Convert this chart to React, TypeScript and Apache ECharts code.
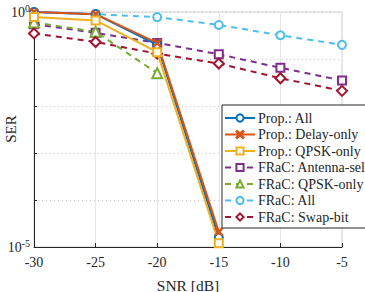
import React, { useEffect, useRef } from "react";
import * as echarts from "echarts";

const snr = [-30, -25, -20, -15, -10, -5];
const propAll = [1.0, 0.9, 0.2, 1.6e-5, null, null];
const propDelay = [1.0, 0.9, 0.22, 2.1e-5, null, null];
const propQpsk = [0.78, 0.66, 0.14, 1.2e-5, null, null];
const fracAntenna = [0.55, 0.36, 0.22, 0.126, 0.065, 0.035];
const fracQpsk = [0.6, 0.38, 0.05, null, null, null];
const fracAll = [1.0, 0.9, 0.78, 0.53, 0.32, 0.2];
const fracSwap = [0.35, 0.23, 0.13, 0.08, 0.039, 0.021];

const names = [
  "Prop.: All",
  "Prop.: Delay-only",
  "Prop.: QPSK-only",
  "FRaC: Antenna-sel",
  "FRaC: QPSK-only",
  "FRaC: All",
  "FRaC: Swap-bit",
];
const yName = "SER";

const crossPath = "path://M1,0L5,4L9,0L10,1L6,5L10,9L9,10L5,6L1,10L0,9L4,5L0,1Z";

export default function App() {
  const ref = useRef<HTMLDivElement>(null);
  useEffect(() => {
    const chart = echarts.init(ref.current!, null, { renderer: "svg" });
    const font = "Liberation Serif";
    const mk = (
      name: string,
      data: (number | null)[],
      color: string,
      symbol: string,
      dashed: boolean,
      size = 8
    ) => ({
      name,
      type: "line",
      data: snr.map((x, i) => [x, data[i] == null ? "-" : data[i]]),
      symbol,
      symbolSize: size,
      showSymbol: true,
      lineStyle: { color, width: 2, type: dashed ? [6, 5] : "solid" },
      itemStyle: { color, borderColor: color, borderWidth: 1.5 },
      connectNulls: false,
      z: dashed ? 2 : 3,
    });
    chart.setOption({
      animation: false,
      textStyle: { fontFamily: font },
      grid: {
        left: 34,
        right: 23,
        top: 12,
        bottom: 45,
        containLabel: false,
        outerBoundsMode: "none",
        show: true,
        borderColor: "#d0d0d0",
        borderWidth: 1,
      },
      graphic: [
        {
          type: "text",
          x: 11,
          y: 129,
          rotation: Math.PI / 2,
          style: {
            text: yName,
            fontFamily: font,
            fontSize: 15,
            fill: "#262626",
            align: "center",
            verticalAlign: "middle",
          },
        },
      ],
      xAxis: {
        type: "value",
        min: -30,
        max: -5,
        interval: 5,
        name: "SNR [dB]",
        nameLocation: "middle",
        nameGap: 30,
        nameTextStyle: { fontFamily: font, fontSize: 15.5, color: "#262626" },
        axisLine: { lineStyle: { color: "#262626", width: 1 } },
        axisTick: { inside: true, length: 4, lineStyle: { color: "#262626" } },
        axisLabel: { fontFamily: font, fontSize: 14, color: "#262626", margin: 8 },
        splitLine: { show: true, lineStyle: { color: "#e6e6e6", width: 1 } },
      },
      yAxis: {
        type: "log",
        logBase: 10,
        min: 1e-5,
        max: 1,
        axisLine: { show: true, lineStyle: { color: "#262626", width: 1 } },
        axisTick: { show: true, inside: true, length: 3, lineStyle: { color: "#262626" } },
        axisLabel: {
          fontFamily: font,
          color: "#262626",
          margin: 4,
          formatter: (v: number) => {
            const e = Math.round(Math.log10(v));
            if (e === 0 || e === -5) return `{b|10}{s|${e}}`;
            return "";
          },
          rich: {
            b: { fontFamily: font, fontSize: 14, color: "#262626" },
            s: {
              fontFamily: font,
              fontSize: 10,
              color: "#262626",
              verticalAlign: "top",
              padding: [0, 0, 8, 0],
            },
          },
        },
        splitLine: {
          show: true,
          lineStyle: { color: "#c8c8c8", width: 1, type: [1, 3] },
        },
      },
      legend: {
        orient: "vertical",
        left: 222,
        top: 105,
        backgroundColor: "#ffffff",
        borderColor: "#262626",
        borderWidth: 1,
        padding: [6, 2, 4, 2],
        itemGap: 2.5,
        itemWidth: 30,
        itemHeight: 9,
        textStyle: {
          fontFamily: font,
          fontSize: 14,
          lineHeight: 14,
          color: "#262626",
          padding: [0, 0, 0, -2],
        },
        data: names,
      },
      series: [
        mk(names[0], propAll, "#0072BD", "emptyCircle", false),
        mk(names[1], propDelay, "#D95319", crossPath, false, 7),
        mk(names[2], propQpsk, "#EDB120", "emptyRect", false),
        mk(names[3], fracAntenna, "#7E2F8E", "emptyRect", true),
        mk(names[4], fracQpsk, "#77AC30", "emptyTriangle", true, 10),
        mk(names[5], fracAll, "#4DBEEE", "emptyCircle", true),
        mk(names[6], fracSwap, "#A2142F", "emptyDiamond", true, 10),
      ],
    });
    return () => chart.dispose();
  }, []);
  return (
    <div
      ref={ref}
      style={{ width: 365, height: 292, position: "absolute", left: 0, top: 0 }}
    />
  );
}
